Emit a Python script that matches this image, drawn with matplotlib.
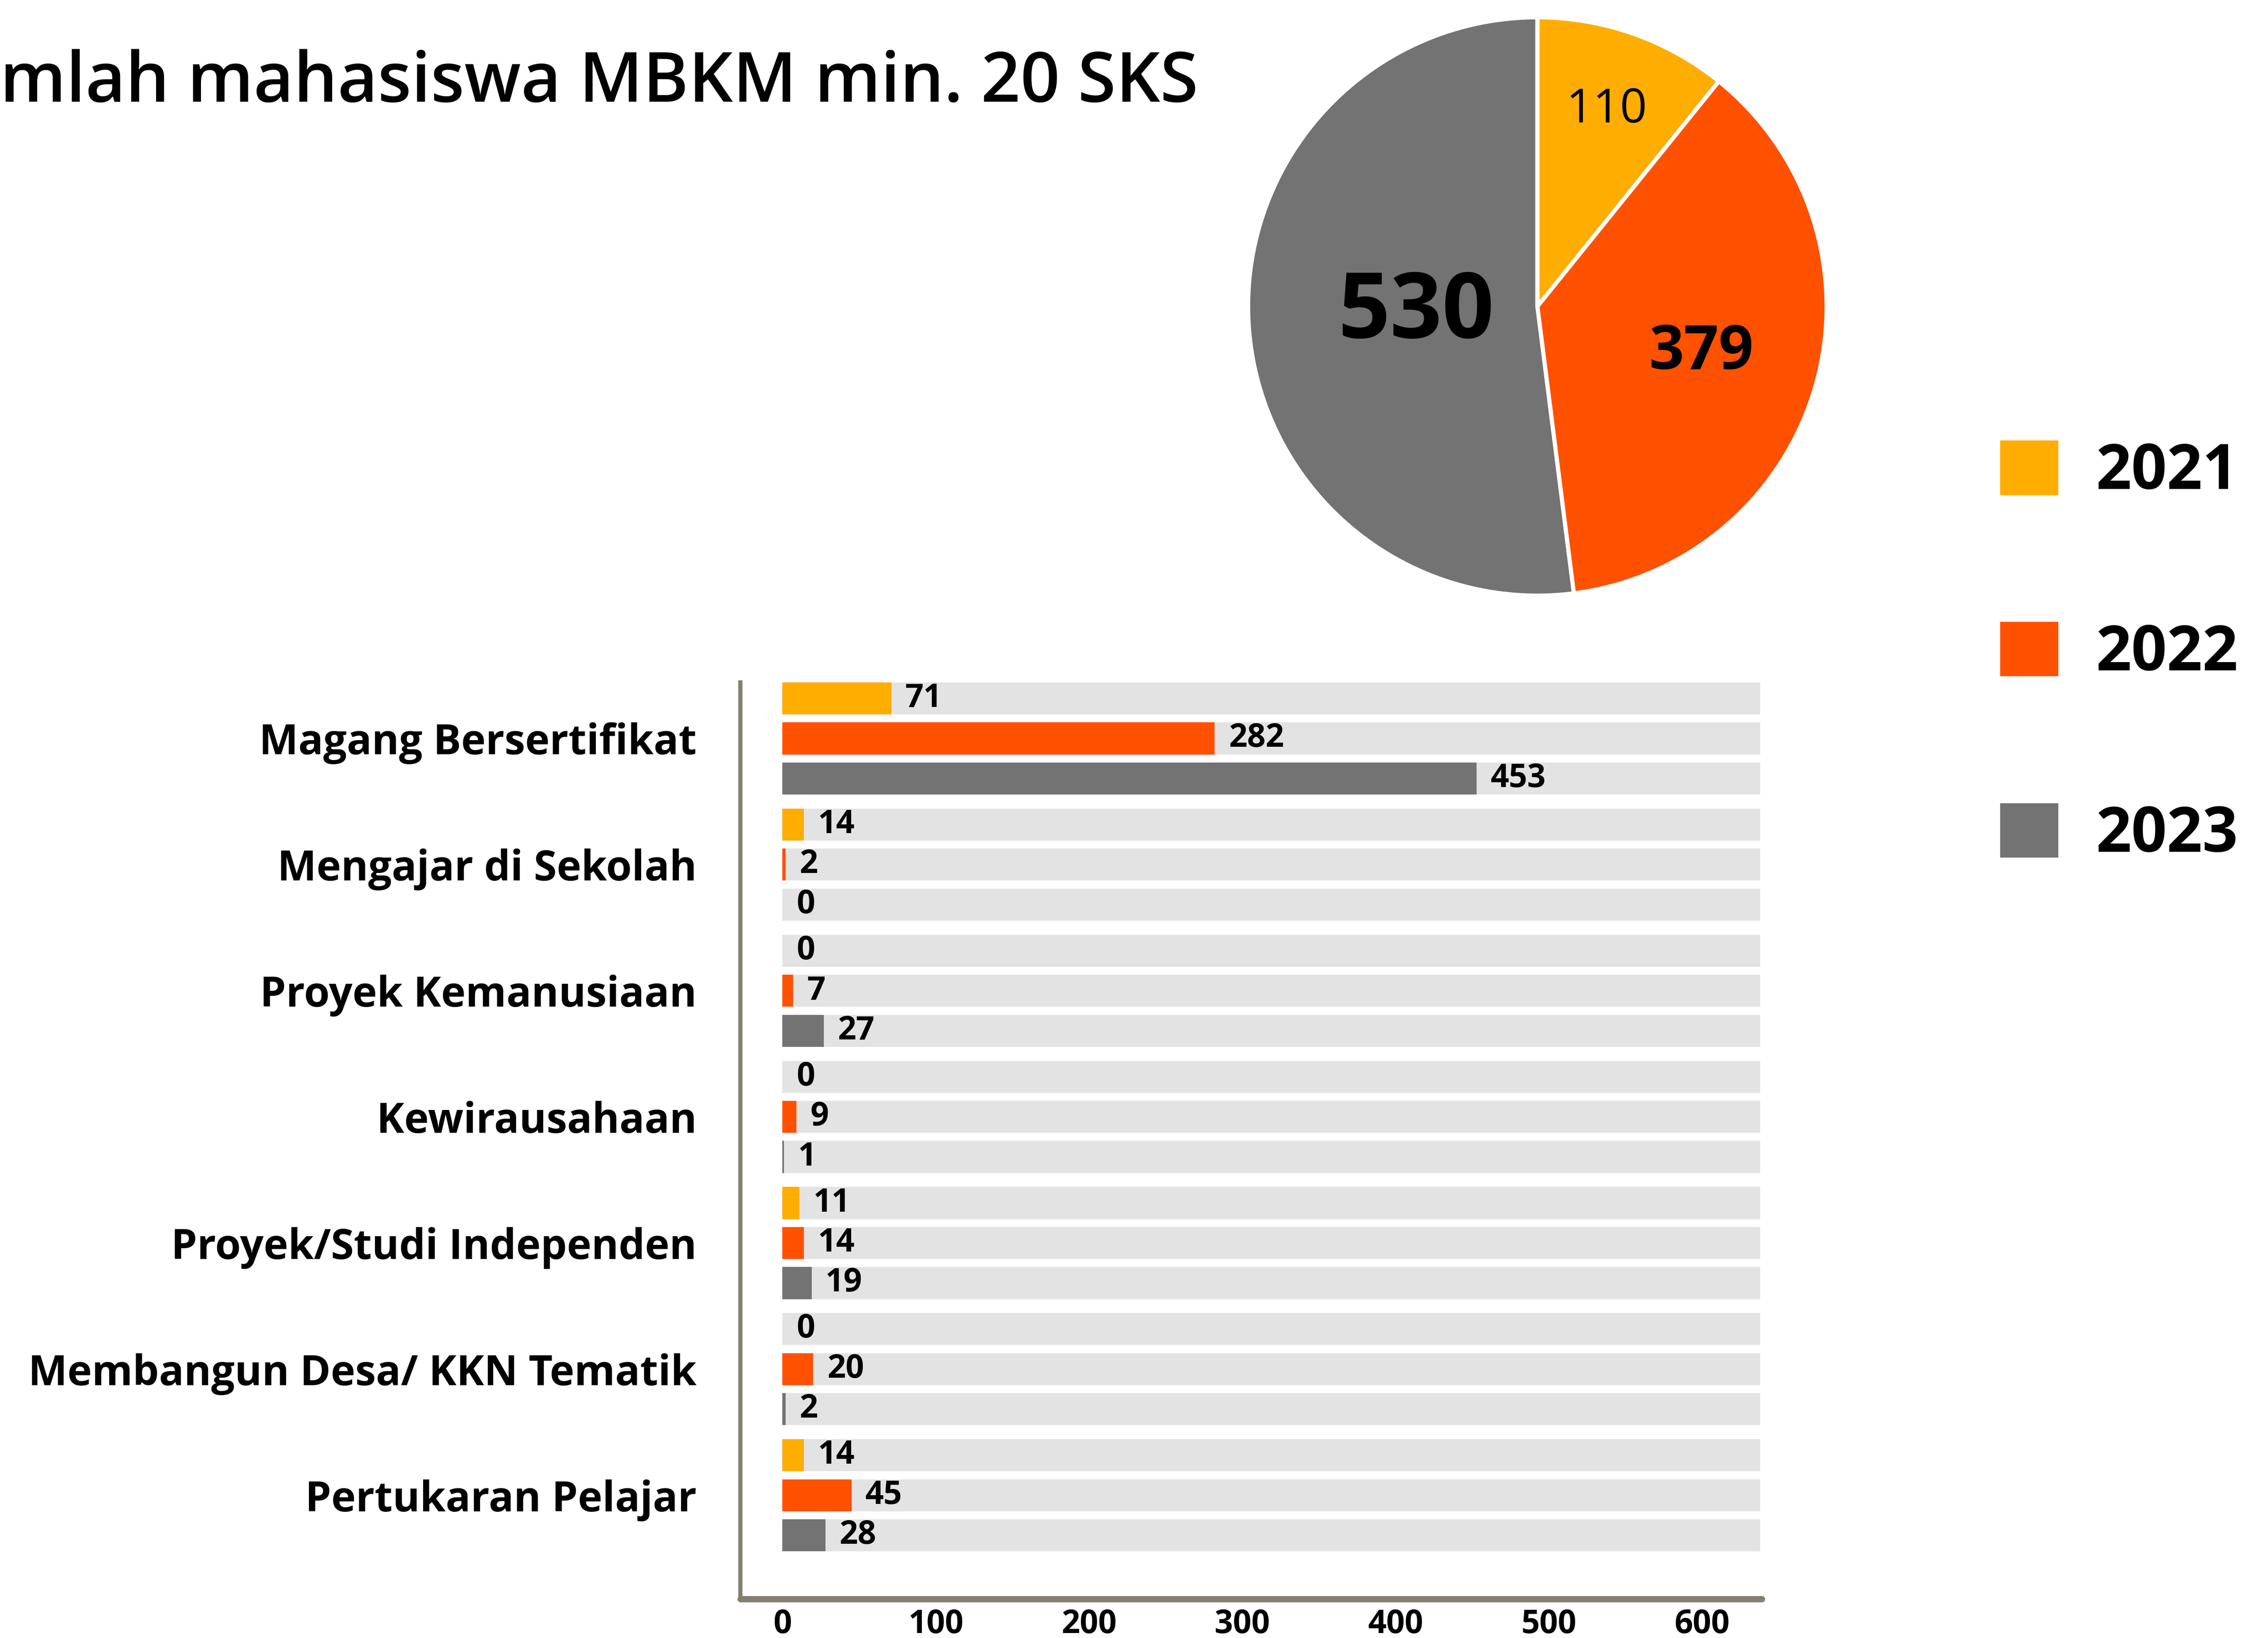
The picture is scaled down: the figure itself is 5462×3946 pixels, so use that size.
import matplotlib
matplotlib.use("Agg")
import matplotlib.pyplot as plt
import numpy as np
from matplotlib.patches import Patch

plt.rcParams['font.family'] = ['Open Sans', 'DejaVu Sans']

# data
categories = ['Magang Bersertifikat', 'Mengajar di Sekolah', 'Proyek Kemanusiaan',
              'Kewirausahaan', 'Proyek/Studi Independen', 'Membangun Desa/ KKN Tematik',
              'Pertukaran Pelajar']
years = ['2021', '2022', '2023']
v2021 = [71, 14, 0, 0, 11, 0, 14]
v2022 = [282, 2, 7, 9, 14, 20, 45]
v2023 = [453, 0, 27, 1, 19, 2, 28]
totals = [110, 379, 530]
xticks = [0, 100, 200, 300, 400, 500, 600]
bg_max = 638

colors = ['#ffad00', '#ff5100', '#737373']
bg_color = '#e3e3e3'
spine_color = '#857f72'

fig = plt.figure(figsize=(27.31, 19.73), dpi=200)

# title (cut off at the left edge like the original)
fig.text(0.0, 0.938, 'mlah mahasiswa MBKM min. 20 SKS', fontsize=60,
         fontweight='semibold', ha='left', va='baseline')

# pie
axp = fig.add_axes([0.549, 0.6346, 0.2577, 0.3566])
wedges, _ = axp.pie(totals, colors=colors, startangle=90, counterclock=False,
                    wedgeprops=dict(edgecolor='white', linewidth=3.6))
axp.set_xlim(-1.01, 1.01)
axp.set_ylim(-1.01, 1.01)
label_r = [0.72, 0.59, 0.42]
label_size = [41, 53, 79]
label_weight = ['normal', 'bold', 'bold']
for w, t, r, s, fw in zip(wedges, totals, label_r, label_size, label_weight):
    ang = np.deg2rad((w.theta1 + w.theta2) / 2)
    axp.text(r * np.cos(ang), r * np.sin(ang), str(t), ha='center', va='center',
             fontsize=s, fontweight=fw)

# bars
ax = fig.add_axes([0.3265, 0.0238, 0.4503, 0.5596])
gap = 0.15
pos = np.array([[g * (3 + gap) + i for i in range(3)] for g in range(len(categories))])
h = 0.8
for i, (vals, c) in enumerate(zip([v2021, v2022, v2023], colors)):
    ax.barh(pos[:, i], [bg_max] * len(vals), height=h, color=bg_color, zorder=1)
    bars = ax.barh(pos[:, i], vals, height=h, color=c, zorder=2)
    ax.bar_label(bars, labels=[str(v) for v in vals], padding=12, fontsize=28,
                 fontweight='bold', zorder=3)

ax.set_xlim(-27.4, 639)
ax.set_ylim(pos.max() + 0.4 + 1.19, -0.4)
ax.set_yticks(pos[:, 1])
ax.set_yticklabels(categories, fontsize=36, fontweight='bold')
ax.set_xticks(xticks)
ax.set_xticklabels([str(x) for x in xticks], fontsize=28, fontweight='bold')
ax.tick_params(axis='y', length=0, pad=38)
ax.tick_params(axis='x', length=0, pad=8)
for s in ['top', 'right']:
    ax.spines[s].set_visible(False)
ax.spines['left'].set_linewidth(3.6)
ax.spines['left'].set_color(spine_color)
ax.spines['bottom'].set_linewidth(5.4)
ax.spines['bottom'].set_color(spine_color)
ax.spines['bottom'].set_capstyle('round')

# legend
handles = [Patch(facecolor=c, edgecolor='none') for c in colors]
fig.legend(handles, years, loc='center left', bbox_to_anchor=(0.882, 0.601),
           frameon=False, prop={'weight': 'bold', 'size': 54},
           handlelength=0.93, handleheight=0.97, handletextpad=0.6,
           labelspacing=1.89, borderpad=0, borderaxespad=0)

fig.savefig('out.png', dpi=200)
